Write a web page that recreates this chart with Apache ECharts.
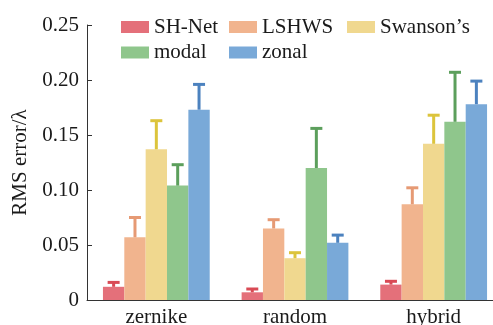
<!DOCTYPE html>
<html>
<head>
<meta charset="utf-8">
<script src="https://cdn.jsdelivr.net/npm/echarts@6/dist/echarts.min.js"></script>
<style>html,body{margin:0;padding:0;background:#fff}#c{width:493px;height:325px}</style>
</head>
<body>
<div id="c"></div>
<script>
var categories = ['zernike', 'random', 'hybrid'];
var methods = ['SH-Net', 'LSHWS', 'Swanson\u2019s', 'modal', 'zonal'];
var shnetMean = [0.012, 0.007, 0.014];
var shnetErr = [0.004, 0.003, 0.003];
var lshwsMean = [0.057, 0.065, 0.087];
var lshwsErr = [0.018, 0.008, 0.015];
var swansonMean = [0.137, 0.038, 0.142];
var swansonErr = [0.026, 0.005, 0.026];
var modalMean = [0.104, 0.120, 0.162];
var modalErr = [0.019, 0.036, 0.045];
var zonalMean = [0.173, 0.052, 0.178];
var zonalErr = [0.023, 0.007, 0.021];
var yTickLabels = ['0', '0.05', '0.10', '0.15', '0.20', '0.25'];

var means = [shnetMean, lshwsMean, swansonMean, modalMean, zonalMean];
var errs = [shnetErr, lshwsErr, swansonErr, modalErr, zonalErr];
var barColors = ['#e4707a', '#f1b48e', '#f0d88f', '#8fc68c', '#79a9d8'];
var errColors = ['#d94a55', '#e69a74', '#dcc43c', '#5c9f5c', '#4c82bf'];
var FONT = 'Liberation Serif';
var GAP = 0.23;

var series = [];
methods.forEach(function (m, i) {
  series.push({
    name: m, type: 'bar', data: means[i], barGap: '0%', barCategoryGap: (GAP * 100) + '%',
    itemStyle: { color: barColors[i] }, z: 2
  });
});
methods.forEach(function (m, i) {
  series.push({
    name: m + ' err', type: 'custom', z: 3,
    data: means[i].map(function (v, k) { return [k, v, errs[i][k]]; }),
    renderItem: function (params, api) {
      var cat = api.value(0), mean = api.value(1), err = api.value(2);
      var base = api.coord([cat, mean]);
      var top = api.coord([cat, mean + err]);
      var band = api.size([1, 0])[0];
      var bw = band * (1 - GAP) / methods.length;
      var x = base[0] - bw * methods.length / 2 + (i + 0.5) * bw;
      var st = { stroke: errColors[i], lineWidth: 3 };
      return {
        type: 'group',
        children: [
          { type: 'line', shape: { x1: x, y1: base[1], x2: x, y2: top[1] }, style: st },
          { type: 'line', shape: { x1: x - 6, y1: top[1], x2: x + 6, y2: top[1] }, style: st }
        ]
      };
    }
  });
});

var legendPos = [[121, 16.5], [229, 16.5], [347, 16.5], [121, 42], [229, 42]];
var legends = methods.map(function (m, i) {
  return {
    data: [m], left: legendPos[i][0], top: legendPos[i][1], padding: 0,
    itemWidth: 28, itemHeight: 12, icon: 'rect',
    textStyle: { fontFamily: FONT, fontSize: 21, color: '#1a1a1a' }
  };
});

var chart = echarts.init(document.getElementById('c'));
chart.setOption({
  animation: false,
  legend: legends,
  grid: { left: 87, top: 25, width: 416, bottom: 25, containLabel: false, outerBoundsMode: 'none' },
  xAxis: {
    type: 'category', data: categories,
    axisLine: { lineStyle: { color: '#333', width: 1 } },
    axisTick: { show: false },
    axisLabel: { fontFamily: FONT, fontSize: 21, color: '#1a1a1a', margin: 7 }
  },
  yAxis: {
    type: 'value', min: 0, max: 0.25, interval: 0.05,
    name: 'RMS error/\u03bb', nameLocation: 'middle', nameGap: 55,
    nameTextStyle: { fontFamily: FONT, fontSize: 21, color: '#1a1a1a' },
    axisLine: { show: true, lineStyle: { color: '#333', width: 1 } },
    axisTick: { show: true, inside: true, length: 5, lineStyle: { color: '#333' } },
    splitLine: { show: false },
    axisLabel: {
      fontFamily: FONT, fontSize: 21, color: '#1a1a1a', margin: 8,
      formatter: function (v) { return yTickLabels[Math.round(v / 0.05)]; }
    }
  },
  series: series
});
</script>
</body>
</html>
